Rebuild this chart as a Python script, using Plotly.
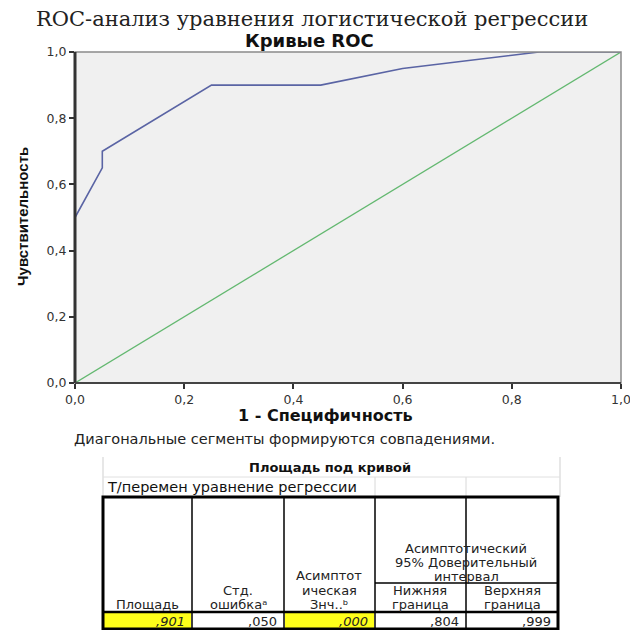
import plotly.graph_objects as go

# ROC curve (1 - specificity vs sensitivity)
fpr = [0.0, 0.0, 0.05, 0.05, 0.25, 0.45, 0.60, 0.85, 1.0]
tpr = [0.0, 0.50, 0.65, 0.70, 0.90, 0.90, 0.95, 1.0, 1.0]
ref_x = [0.0, 1.0]
ref_y = [0.0, 1.0]

tick_vals = [0.0, 0.2, 0.4, 0.6, 0.8, 1.0]

# Area-under-curve summary table
auc_area = ",901"
auc_se = ",050"
auc_sig = ",000"
ci_low = ",804"
ci_high = ",999"
row_values = [auc_area, auc_se, auc_sig, ci_low, ci_high]
highlighted = [True, False, True, False, False]

W, H = 630, 630
L, R, T, B = 75, 621, 52, 383   # plot area in pixels

SANS = "DejaVu Sans"


def px(x):
    return (x - L) / (R - L)


def py(y):
    return (B - y) / (B - T)


fig = go.Figure()
fig.add_trace(go.Scatter(x=ref_x, y=ref_y, mode="lines",
                         line=dict(color="#63b870", width=1.3), hoverinfo="skip"))
fig.add_trace(go.Scatter(x=fpr, y=tpr, mode="lines",
                         line=dict(color="#5a64a4", width=1.6), hoverinfo="skip"))

shapes = []
annotations = []

# plot frame
shapes.append(dict(type="rect", xref="paper", yref="paper", x0=0, y0=0, x1=1, y1=1,
                   line=dict(color="#8a8a8a", width=1.5), layer="above"))
shapes.append(dict(type="line", xref="paper", yref="paper", x0=0, y0=0, x1=0, y1=1,
                   line=dict(color="#333", width=3), layer="above"))
shapes.append(dict(type="line", xref="paper", yref="paper", x0=0, y0=0, x1=1, y1=0,
                   line=dict(color="#444", width=2), layer="above"))


def text(x, y, s, size=13, bold=False, family=SANS, color="#222",
         xanchor="center", textangle=0, italic=False):
    if bold:
        s = "<b>" + s + "</b>"
    if italic:
        s = "<i>" + s + "</i>"
    annotations.append(dict(x=px(x), y=py(y), xref="paper", yref="paper", text=s,
                            showarrow=False, xanchor=xanchor, yanchor="middle",
                            textangle=textangle,
                            font=dict(size=size, family=family, color=color)))


def hline(x0, x1, y, color="#000", width=1):
    shapes.append(dict(type="line", xref="paper", yref="paper", x0=px(x0), x1=px(x1),
                       y0=py(y), y1=py(y), line=dict(color=color, width=width)))


def vline(x, y0, y1, color="#000", width=1):
    shapes.append(dict(type="line", xref="paper", yref="paper", x0=px(x), x1=px(x),
                       y0=py(y0), y1=py(y1), line=dict(color=color, width=width)))


# headings
text(312, 19, "ROC-анализ уравнения логистической регрессии", size=21,
     family="DejaVu Serif", color="#222")
text(309, 40, "Кривые ROC", size=18, bold=True, color="#111")
text(22, 217, "Чувствительность", size=15, bold=True, textangle=-90,
     family="Liberation Sans Narrow, Liberation Sans", color="#111")
text(325, 415, "1 - Специфичность", size=16, bold=True, color="#111")
text(72, 439, "Диагональные сегменты формируются совпадениями.", size=14.5,
     xanchor="left", color="#222")

# table
cols = [103, 192, 284, 375, 466, 558]
top_box, sub_line, head_bot, data_bot = 497, 583, 612, 629
TS = 13

# yellow cells
for i, hl in enumerate(highlighted):
    if hl:
        shapes.append(dict(type="rect", xref="paper", yref="paper",
                           x0=px(cols[i] + 1), x1=px(cols[i + 1] - 1),
                           y0=py(data_bot - 1), y1=py(head_bot + 1),
                           fillcolor="#ffff1a", line=dict(width=0), layer="below"))

# faint grid above the box
vline(103, 457, top_box, color="#cfcfcf")
vline(560, 457, top_box, color="#cfcfcf")
vline(375, 477, top_box, color="#d8d8d8")
vline(466, 477, top_box, color="#d8d8d8")
hline(103, 560, 477, color="#e0e0e0")

# box lines
for c in cols[1:-1]:
    vline(c, top_box, data_bot, width=1.5)
hline(375, 558, sub_line, width=1.5)
hline(103, 558, head_bot, width=2.5)
shapes.append(dict(type="rect", xref="paper", yref="paper", x0=px(103), x1=px(558),
                   y0=py(data_bot), y1=py(top_box), line=dict(color="#000", width=3)))

text(330, 467, "Площадь под кривой", size=13, bold=True, color="#111")
text(105, 487, "Т/перемен уравнение регрессии", size=14.5, xanchor="left", color="#111")

text(147, 604, "Площадь", size=TS)
text(238, 590, "Стд.", size=TS)
text(238, 604, "ошибкаᵃ", size=TS)
text(329, 575, "Асимптот", size=TS)
text(329, 590, "ическая", size=TS)
text(329, 604, "Знч..ᵇ", size=TS)
text(466, 548, "Асимптотический", size=TS)
text(466, 562, "95% Доверительный", size=TS)
text(466, 576, "интервал", size=TS)
text(420, 590, "Нижняя", size=TS)
text(420, 604, "граница", size=TS)
text(512, 590, "Верхняя", size=TS)
text(512, 604, "граница", size=TS)

for i, v in enumerate(row_values):
    text(cols[i + 1] - 5, 621, v, size=TS, xanchor="right", italic=highlighted[i])

axis_common = dict(range=[0, 1], tickvals=tick_vals, tickformat=".1f",
                   ticks="outside", ticklen=5, tickwidth=1.5, tickcolor="#333",
                   showgrid=False, zeroline=False, showline=False,
                   automargin=False, ticklabeloverflow="allow",
                   tickfont=dict(size=12.5, family=SANS, color="#333"),
                   fixedrange=True)

fig.update_layout(
    width=W, height=H,
    margin=dict(l=L, r=W - R, t=T, b=H - B),
    paper_bgcolor="white", plot_bgcolor="#f0f0f0",
    separators=", ",
    showlegend=False,
    xaxis=axis_common,
    yaxis=axis_common,
    shapes=shapes,
    annotations=annotations,
)

fig.write_html("out.html")
